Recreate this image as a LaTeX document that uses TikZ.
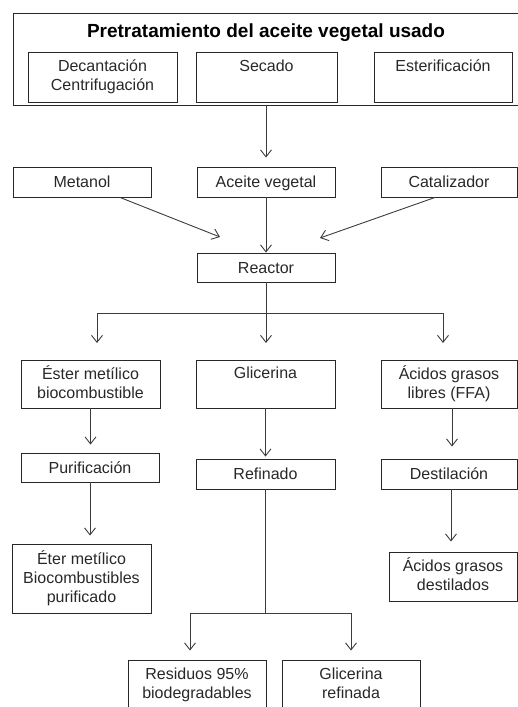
\documentclass[tikz,border=0pt]{standalone}
\usepackage{fontspec}
\setmainfont{Liberation Sans}
\usetikzlibrary{arrows.meta,calc}
\definecolor{ink}{RGB}{40,40,40}
\definecolor{wire}{RGB}{60,60,60}
\newcommand{\bxtop}{\rule{0pt}{15.5pt}}
\newcommand{\bxbot}{\rule[-4pt]{0pt}{4pt}}
\tikzset{
  bx/.style={draw=ink, line width=0.9pt, inner sep=0pt, align=center, text=ink,
    font=\fontsize{16}{19}\selectfont,
    execute at begin node=\bxtop, execute at end node=\bxbot},
  wireline/.style={draw=wire, line width=0.9pt},
  arr/.style={wireline, -{Straight Barb[length=7pt,width=11pt,line width=0.9pt]}}
}
\begin{document}
\begin{tikzpicture}[x=1pt,y=-1pt]
\useasboundingbox (0,0) rectangle (518,707);

% pretreatment block
\node[bx, minimum width=506, minimum height=92] (outer) at (266,59) {};
\node[font=\fontsize{19}{22}\selectfont\bfseries, text=black, anchor=base, inner sep=0pt] (title) at (266,37) {Pretratamiento del aceite vegetal usado};
\node[bx, minimum width=149, minimum height=50] (dec) at (102.5,77) {Decantación\\Centrifugación};
\node[bx, minimum width=141, minimum height=50] (sec) at (266.5,77) {Secado\\\mbox{}};
\node[bx, minimum width=138, minimum height=50] (est) at (443,77) {Esterificación\\\mbox{}};

% reactor inputs
\node[bx, minimum width=138, minimum height=30] (met) at (82,182) {Metanol};
\node[bx, minimum width=138, minimum height=30] (ace) at (266,182) {Aceite vegetal};
\node[bx, minimum width=136, minimum height=30] (cat) at (449,182) {Catalizador};
\node[bx, minimum width=138, minimum height=29] (reac) at (266,267.5) {Reactor};

% reactor products
\node[bx, minimum width=139, minimum height=48] (ester) at (90.5,384) {Éster metílico\\biocombustible};
\node[bx, minimum width=139, minimum height=48] (gli) at (265.5,384) {Glicerina\\\mbox{}};
\node[bx, minimum width=136, minimum height=48] (acid) at (449,384) {Ácidos grasos\\libres (FFA)};

% processing
\node[bx, minimum width=138, minimum height=29] (puri) at (90,467.5) {Purificación};
\node[bx, minimum width=139, minimum height=30] (ref) at (265.5,474) {Refinado};
\node[bx, minimum width=136, minimum height=30] (dest) at (449,474) {Destilación};

% final products
\node[bx, minimum width=139, minimum height=69] (eter) at (81.5,578.5) {Éter metílico\\Biocombustibles\\purificado};
\node[bx, minimum width=128, minimum height=49] (acdest) at (453,576.5) {Ácidos grasos\\destilados};
\node[bx, minimum width=138, minimum height=51] (resid) at (197,685.5) {Residuos 95\%\\biodegradables};
\node[bx, minimum width=138, minimum height=51] (glref) at (351,685.5) {Glicerina\\refinada};

% junction points
\coordinate (mixL) at (220,237);
\coordinate (mixR) at (320,238);
\coordinate (s1) at (266,313);
\coordinate (s1L) at (97,343);
\coordinate (s1M) at (266,343);
\coordinate (s1R) at (443,343);
\coordinate (s2) at (265.5,613);

% connectors
\draw[arr] (outer.south -| ace.north) -- ([yshift=9pt]ace.north);
\draw[arr] ($(met.south)+(38,0)$) -- (mixL);
\draw[arr] ($(cat.south)+(-14,0)$) -- (mixR);
\draw[arr] (ace.south) -- (reac.north);

\draw[wireline] (reac.south) -- (s1);
\draw[arr] (s1) -| (s1L);
\draw[arr] (s1) -| (s1R);
\draw[arr] (s1) -- (s1M);

\draw[arr] (ester.south) -- ([yshift=8pt]ester.south |- puri.north);
\draw[arr] (gli.south) -- ([yshift=2pt]ref.north);
\draw[arr] ([xshift=3pt]acid.south) -- ([xshift=3pt,yshift=12pt]acid.south |- dest.north);

\draw[arr] (puri.south) -- ([yshift=8pt]puri.south |- eter.north);
\draw[arr] ([xshift=2pt]dest.south) -- ([xshift=2pt,yshift=10pt]dest.south |- acdest.north);

\draw[wireline] (ref.south) -- (s2);
\draw[arr] (s2) -| ([xshift=-7pt,yshift=9pt]resid.north);
\draw[arr] (s2) -| ([yshift=9pt]glref.north);
\end{tikzpicture}
\end{document}
